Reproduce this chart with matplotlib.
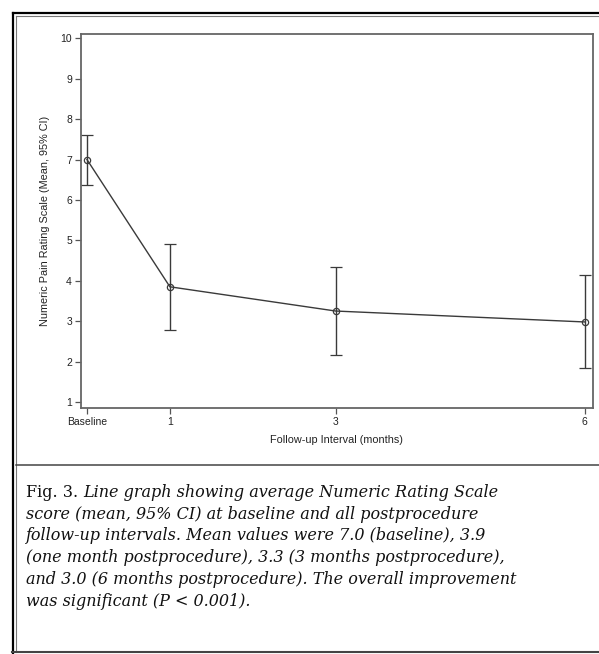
import matplotlib
matplotlib.use("Agg")
import matplotlib.pyplot as plt
from matplotlib.lines import Line2D

# Dữ liệu
months = [0, 1, 3, 6]
tick_labels = ["Baseline", "1", "3", "6"]
mean_nrs = [7.0, 3.85, 3.25, 2.98]
ci_low = [6.38, 2.79, 2.15, 1.85]
ci_high = [7.6, 4.9, 4.34, 4.13]

W, H = 599, 654
fig = plt.figure(figsize=(W / 100, H / 100), dpi=100)

def px(x0, y0, x1, y1):
    # toạ độ pixel -> toạ độ figure
    return [x0 / W, x1 / W], [1 - y0 / H, 1 - y1 / H]

ax = fig.add_axes([81 / W, 1 - 408 / H, (592.5 - 81) / W, (408 - 33.5) / H])

yerr = [[m - lo for m, lo in zip(mean_nrs, ci_low)],
        [hi - m for m, hi in zip(mean_nrs, ci_high)]]
ax.errorbar(months, mean_nrs, yerr=yerr, fmt="o-", color="#3a3a3a",
            mfc="none", mec="#3a3a3a", ms=4.5, mew=0.9, lw=1.0,
            ecolor="#3a3a3a", elinewidth=1.0, capsize=4, capthick=1.0)

ax.set_xlim(-0.072, 6.096)
ax.set_ylim(0.85, 10.12)
ax.set_xticks(months)
ax.set_xticklabels(tick_labels)
ax.set_yticks(range(1, 11))

sans = "Liberation Sans"
for lab in ax.get_xticklabels() + ax.get_yticklabels():
    lab.set_fontfamily(sans)
    lab.set_fontsize(7.5)
    lab.set_color("#222222")
ax.tick_params(length=4, width=0.9, color="#555555", pad=2.5)
for s in ax.spines.values():
    s.set_color("#666666")
    s.set_linewidth(1.3)

ax.set_ylabel("Numeric Pain Rating Scale (Mean, 95% CI)", fontfamily=sans,
              fontsize=7.8, color="#222222")
ax.yaxis.set_label_coords(-0.061, 0.5)
ax.set_xlabel("Follow-up Interval (months)", fontfamily=sans, fontsize=7.8,
              color="#222222")
ax.xaxis.set_label_coords(0.5, -0.073)

# Khung ngoài
xs, ys = px(12.8, 13.3, W, 13.3)
fig.add_artist(Line2D(xs, ys, color="black", lw=1.6))
xs, ys = px(15.5, 16.2, W, 16.2)
fig.add_artist(Line2D(xs, ys, color="#777777", lw=0.8))
xs, ys = px(12.8, 12.5, 12.8, 653)
fig.add_artist(Line2D(xs, ys, color="black", lw=1.6))
xs, ys = px(15.5, 15.5, 15.5, 652)
fig.add_artist(Line2D(xs, ys, color="#777777", lw=0.8))
xs, ys = px(15.5, 464.5, W, 464.5)
fig.add_artist(Line2D(xs, ys, color="#444444", lw=1.1))
xs, ys = px(12, 652.2, W, 652.2)
fig.add_artist(Line2D(xs, ys, color="#444444", lw=1.5))

# Chú thích
serif = "DejaVu Serif"
fs = 11.5
lines = [
    "score (mean, 95% CI) at baseline and all postprocedure",
    "follow-up intervals. Mean values were 7.0 (baseline), 3.9",
    "(one month postprocedure), 3.3 (3 months postprocedure),",
    "and 3.0 (6 months postprocedure). The overall improvement",
    "was significant (P < 0.001).",
]
x0 = 26 / W
base0 = 497
step = 21.7
t = fig.text(x0, 1 - base0 / H, "Fig. 3. ", fontfamily=serif, fontsize=fs,
             va="baseline", color="#111111")
fig.canvas.draw()
bb = t.get_window_extent()
fig.text(bb.x1 / W, 1 - base0 / H, "Line graph showing average Numeric Rating Scale",
         fontfamily=serif, fontsize=fs, style="italic", va="baseline",
         color="#111111")
for i, ln in enumerate(lines):
    fig.text(x0, 1 - (base0 + step * (i + 1)) / H, ln, fontfamily=serif,
             fontsize=fs, style="italic", va="baseline", color="#111111")

fig.savefig("out.png", dpi=100)
